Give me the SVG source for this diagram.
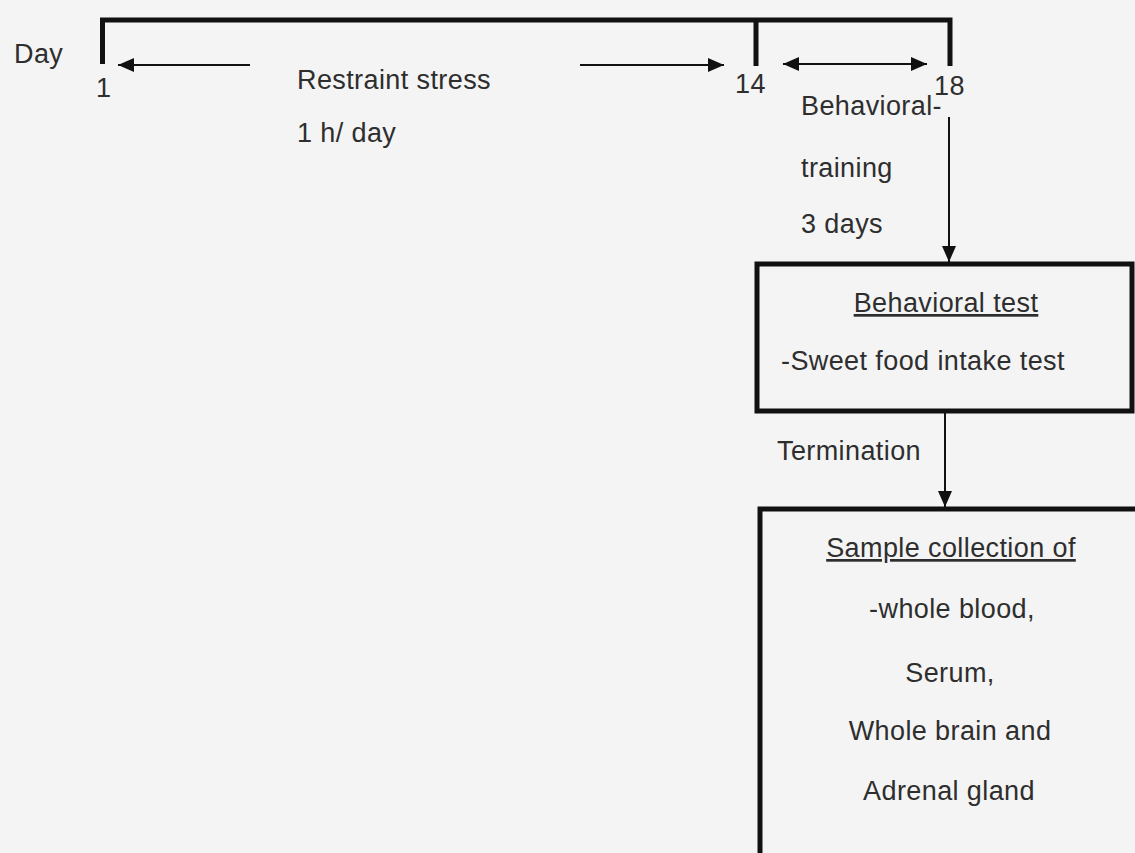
<svg xmlns="http://www.w3.org/2000/svg" width="1135" height="853" viewBox="0 0 1135 853">
<style>
text{font-family:"Liberation Sans",Arial,sans-serif;font-size:27px;fill:#2e2e2e;letter-spacing:0.4px}
.mid{text-anchor:middle}
.ul{text-decoration:underline}
.thick{fill:none;stroke:#111;stroke-width:5}
.arr{fill:none;stroke:#111;stroke-width:2}
.box{fill:none;stroke:#111;stroke-width:5}
</style>
<defs>
<marker id="ahb" viewBox="0 0 10 10" refX="10" refY="5" markerWidth="16" markerHeight="14" markerUnits="userSpaceOnUse" orient="auto-start-reverse" preserveAspectRatio="none">
<path d="M0,0 L10,5 L0,10 z" fill="#111"/>
</marker>
</defs>
<rect width="1135" height="853" fill="#f4f4f4"/>
<g id="timeline">
<path class="thick" d="M102.5,64 V20 H950 V66 M756,20 V66"/>
<text x="14" y="63">Day</text>
<text x="96" y="97">1</text>
<text x="735" y="93">14</text>
<text x="934" y="95">18</text>
<text x="297" y="89">Restraint stress</text>
<text x="297" y="142">1 h/ day</text>
<text x="801" y="115">Behavioral-</text>
<text x="801" y="177">training</text>
<text x="801" y="233">3 days</text>
</g>
<g id="behavioral-test">
<rect class="box" x="757" y="264" width="375" height="147"/>
<text class="mid ul" x="946" y="312">Behavioral test</text>
<text x="781" y="370">-Sweet food intake test</text>
</g>
<g id="sample-collection">
<path class="box" d="M760,860 V509 H1140"/>
<text class="mid ul" x="951" y="557">Sample collection of</text>
<text class="mid" x="952" y="618">-whole blood,</text>
<text class="mid" x="950" y="682">Serum,</text>
<text class="mid" x="950" y="740">Whole brain and</text>
<text class="mid" x="949" y="800">Adrenal gland</text>
</g>
<g id="connectors">
<line class="arr" x1="250" y1="65" x2="118" y2="65" marker-end="url(#ahb)"/>
<line class="arr" x1="580" y1="65" x2="724" y2="65" marker-end="url(#ahb)"/>
<line class="arr" x1="783" y1="64" x2="927" y2="64" marker-start="url(#ahb)" marker-end="url(#ahb)"/>
<line class="arr" x1="949" y1="117" x2="949" y2="262" marker-end="url(#ahb)"/>
<line class="arr" x1="945" y1="413" x2="945" y2="507" marker-end="url(#ahb)"/>
<text x="777" y="460">Termination</text>
</g>
</svg>
